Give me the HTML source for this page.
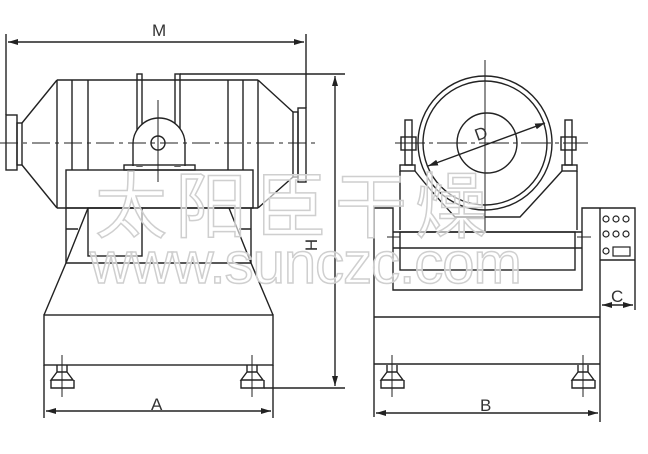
<!DOCTYPE html>
<html><head><meta charset="utf-8"><style>
html,body{margin:0;padding:0;background:#fff;width:648px;height:454px;overflow:hidden}
svg{display:block}
text{font-family:"Liberation Sans","Noto Sans CJK SC",sans-serif}
</style></head><body>
<svg width="648" height="454" viewBox="0 0 648 454" xmlns="http://www.w3.org/2000/svg">
<defs>
<marker id="a" viewBox="0 0 10 6" refX="10" refY="3" markerWidth="10" markerHeight="6" orient="auto-start-reverse" markerUnits="userSpaceOnUse"><path d="M0,0L10,3L0,6z" fill="#222"/></marker>
</defs>
<g stroke="#222" stroke-width="1.4" fill="none">
<!-- M dimension -->
<line x1="6" y1="34" x2="6" y2="115"/>
<line x1="306" y1="34" x2="306" y2="108"/>
<line x1="8" y1="42" x2="304" y2="42" marker-start="url(#a)" marker-end="url(#a)"/>
<!-- drum -->
<path d="M57,80 L258,80 M57,208 L258,208 M57,80 L57,208 M258,80 L258,208"/>
<path d="M57,80 L22,123 M57,208 L22,165 M258,80 L293,112 M258,208 L293,177"/>
<rect x="6" y="115" width="11" height="55"/>
<rect x="17" y="123" width="5" height="42"/>
<rect x="293" y="112" width="5" height="65"/>
<rect x="298" y="108" width="8" height="74"/>
<path d="M72,80V170 M88,80V170 M228,80V170 M243,80V170"/>
<!-- posts -->
<rect x="137" y="74" width="5" height="92"/>
<rect x="175" y="74" width="5" height="92"/>
<line x1="180" y1="74" x2="345" y2="74"/>
<!-- bearing -->
<path d="M133,166 V144 A26,26 0 0 1 185,144 V166" fill="#fff"/>
<rect x="124" y="165" width="71" height="5"/>
<circle cx="158" cy="143" r="7"/>
<line x1="158" y1="100" x2="158" y2="182" stroke-width="1"/>
<line x1="0" y1="143" x2="318" y2="143" stroke-width="1" stroke-dasharray="18,5,4,5"/>
<!-- frame -->
<rect x="66" y="170" width="187" height="38" fill="none"/>
<rect x="88" y="208" width="54" height="48"/>
<path d="M66,208V263 M251,208V263 M66,263H251 M66,229H78 M239,229H251"/>
<path d="M88,208L66,263 M229,208L251,263"/>
<path d="M66,263L44,315 M251,263L273,315"/>
<rect x="44" y="315" width="229" height="50"/>
<path d="M44,365V418 M273,365V418"/>
<line x1="46" y1="411" x2="271" y2="411" marker-start="url(#a)" marker-end="url(#a)"/>
<!-- feet left -->
<g id="ft"><line x1="62" y1="355" x2="62" y2="397" stroke-width="1"/><path d="M57,365V372H67V365 M57,372L51,380H73L67,372 M51,380V388H74V380"/></g>
<use href="#ft" transform="translate(190,0)"/>
<line x1="74" y1="388" x2="345" y2="388" transform="translate(190,0)" stroke="none"/>
<line x1="264" y1="388" x2="345" y2="388"/>
<line x1="335" y1="76" x2="335" y2="386" marker-start="url(#a)" marker-end="url(#a)"/>
<!-- right view -->
<circle cx="485" cy="143" r="67"/>
<circle cx="485" cy="143" r="62"/>
<circle cx="487" cy="143" r="30"/>
<line x1="485" y1="60" x2="485" y2="232" stroke-width="1"/>
<line x1="395" y1="143" x2="588" y2="143" stroke-width="1" stroke-dasharray="30,4,4,4"/>
<line x1="428" y1="166" x2="545" y2="123" marker-start="url(#a)" marker-end="url(#a)"/>
<rect x="405" y="120" width="7" height="45"/>
<rect x="401" y="137" width="15" height="13"/>
<rect x="565" y="120" width="7" height="45"/>
<rect x="561" y="137" width="15" height="13"/>
<rect x="400" y="165" width="15" height="6"/>
<rect x="562" y="165" width="15" height="6"/>
<path d="M400,171V230 M577,171V230 M415,171 Q430,190 455,217 H520 Q545,190 562,171"/>
<!-- U frame -->
<path d="M374,417V208H393V290H582V208H635V310 M600,208V422 M374,317H600 M374,364H600"/>
<path d="M393,232H582 M393,248H582"/>
<rect x="400" y="232" width="175" height="38"/>
<path d="M387,237H400 M577,237H591" stroke-width="1"/>
<line x1="600" y1="260" x2="635" y2="260"/>
<g stroke-width="1.2"><circle cx="606" cy="219" r="3"/><circle cx="616" cy="219" r="3"/><circle cx="626" cy="219" r="3"/>
<circle cx="606" cy="234" r="3"/><circle cx="616" cy="234" r="3"/><circle cx="626" cy="234" r="3"/>
<circle cx="606" cy="251" r="3"/><rect x="613" y="247" width="17" height="9"/></g>
<line x1="602" y1="305" x2="633" y2="305" marker-start="url(#a)" marker-end="url(#a)"/>
<use href="#ft" transform="translate(330,0)"/>
<use href="#ft" transform="translate(521,0)"/>
<line x1="376" y1="413" x2="598" y2="413" marker-start="url(#a)" marker-end="url(#a)"/>
</g>
<g fill="#333" font-size="17">
<text x="152" y="36">M</text>
<text x="151" y="410">A</text>
<text x="480" y="411">B</text>
<text x="611" y="302">C</text>
<text transform="translate(317,245) rotate(-90)" text-anchor="middle">H</text>
<text transform="translate(483,139) rotate(-20)" text-anchor="middle">D</text>
</g>
<!-- watermark -->
<g fill="#fff" stroke="#cfcfcf" stroke-width="1.5" fill-opacity="0.6">
<text x="95" y="232" font-size="72" font-family="'Noto Serif CJK SC','Noto Sans CJK SC',sans-serif" letter-spacing="8">太阳臣干燥</text>
<text x="90" y="283" font-size="58" letter-spacing="-1">www.sunczc.com</text>
</g>
</svg>
</body></html>
